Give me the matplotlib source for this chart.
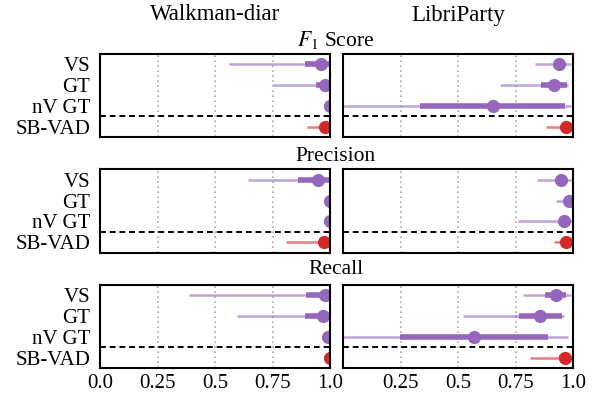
import numpy as np
import matplotlib
matplotlib.use("Agg")
import matplotlib.pyplot as plt

plt.rcParams["font.family"] = "Liberation Serif"
plt.rcParams["mathtext.fontset"] = "stix"

methods = ["VS", "GT", "nV GT", "SB-VAD"]
datasets = ["Walkman-diar", "LibriParty"]
metrics = ["$F_1$ Score", "Precision", "Recall"]

# (min, q1, median, q3, max) for each method
f1_walkman = [(0.56, 0.89, 0.96, 1.0, 1.0), (0.75, 0.94, 0.98, 1.0, 1.0),
              (0.99, 0.995, 1.0, 1.0, 1.0), (0.90, 0.96, 0.98, 1.0, 1.0)]
f1_libri = [(0.836, 0.92, 0.937, 0.96, 0.99), (0.683, 0.859, 0.916, 0.975, 0.978),
            (0.0, 0.336, 0.651, 0.963, 0.99), (0.884, 0.95, 0.968, 0.98, 0.99)]
prec_walkman = [(0.643, 0.863, 0.946, 1.0, 1.0), (0.99, 0.995, 1.0, 1.0, 1.0),
                (0.99, 0.995, 1.0, 1.0, 1.0), (0.81, 0.95, 0.975, 0.99, 1.0)]
prec_libri = [(0.843, 0.93, 0.946, 0.97, 1.0), (0.925, 0.97, 0.983, 0.99, 1.0),
              (0.76, 0.94, 0.961, 0.98, 1.0), (0.917, 0.95, 0.971, 0.98, 0.99)]
rec_walkman = [(0.387, 0.895, 0.98, 1.0, 1.0), (0.595, 0.89, 0.968, 1.0, 1.0),
               (0.97, 0.98, 0.99, 1.0, 1.0), (0.99, 0.995, 1.0, 1.0, 1.0)]
rec_libri = [(0.782, 0.88, 0.927, 0.97, 0.99), (0.52, 0.767, 0.857, 0.953, 0.959),
             (0.0, 0.248, 0.571, 0.891, 0.978), (0.814, 0.94, 0.963, 0.98, 0.99)]

panels = [[f1_walkman, f1_libri], [prec_walkman, prec_libri], [rec_walkman, rec_libri]]
xticks = [0.0, 0.25, 0.5, 0.75, 1.0]
xticklabels = ["0.0", "0.25", "0.5", "0.75", "1.0"]

purple = "#9467bd"
red = "#d62728"

fig, axes = plt.subplots(3, 2, figsize=(5.92, 3.94), dpi=100)
fig.subplots_adjust(left=0.169, right=0.968, top=0.863, bottom=0.066,
                    wspace=0.057, hspace=0.386)

for r in range(3):
    for c in range(2):
        ax = axes[r, c]
        data = panels[r][c]
        for grid_x in [0.25, 0.5, 0.75]:
            ax.axvline(grid_x, color="#aaaaaa", ls=(0, (1, 2)), lw=1.2, zorder=0)
        for i, (lo, q1, med, q3, hi) in enumerate(data):
            col = red if methods[i] == "SB-VAD" else purple
            ax.plot([lo, hi], [i, i], color=col, alpha=0.6, lw=1.8, solid_capstyle="butt")
            ax.plot([q1, q3], [i, i], color=col, lw=4.0, solid_capstyle="butt")
            ax.plot([med], [i], "o", color=col, ms=9.5, mec="none")
        ax.axhline(2.5, color="black", ls=(0, (3, 2)), lw=1.4)
        ax.set_xlim(0, 1)
        ax.set_ylim(3.5, -0.5)
        ax.set_yticks(range(len(methods)))
        ax.set_xticks(xticks)
        ax.tick_params(axis="x", length=0, labelsize=15, pad=4)
        ax.tick_params(axis="y", length=0, labelsize=15, pad=7)
        if c == 0:
            ax.set_yticklabels(methods)
        else:
            ax.set_yticklabels([])
        if r == 2:
            ax.set_xticklabels(xticklabels if c == 0 else [""] + xticklabels[1:])
        else:
            ax.set_xticklabels([])
        for sp in ax.spines.values():
            sp.set_linewidth(1.5)

for c, name in enumerate(datasets):
    pos = axes[0, c].get_position()
    fig.text((pos.x0 + pos.x1) / 2, 1 - 15 / 394, name, ha="center", va="center", fontsize=16.5)

row_y = [40, 157, 270]
for r, name in enumerate(metrics):
    fig.text(336 / 592, 1 - row_y[r] / 394, name, ha="center", va="center", fontsize=15.5)

fig.savefig("out.png", dpi=100)
